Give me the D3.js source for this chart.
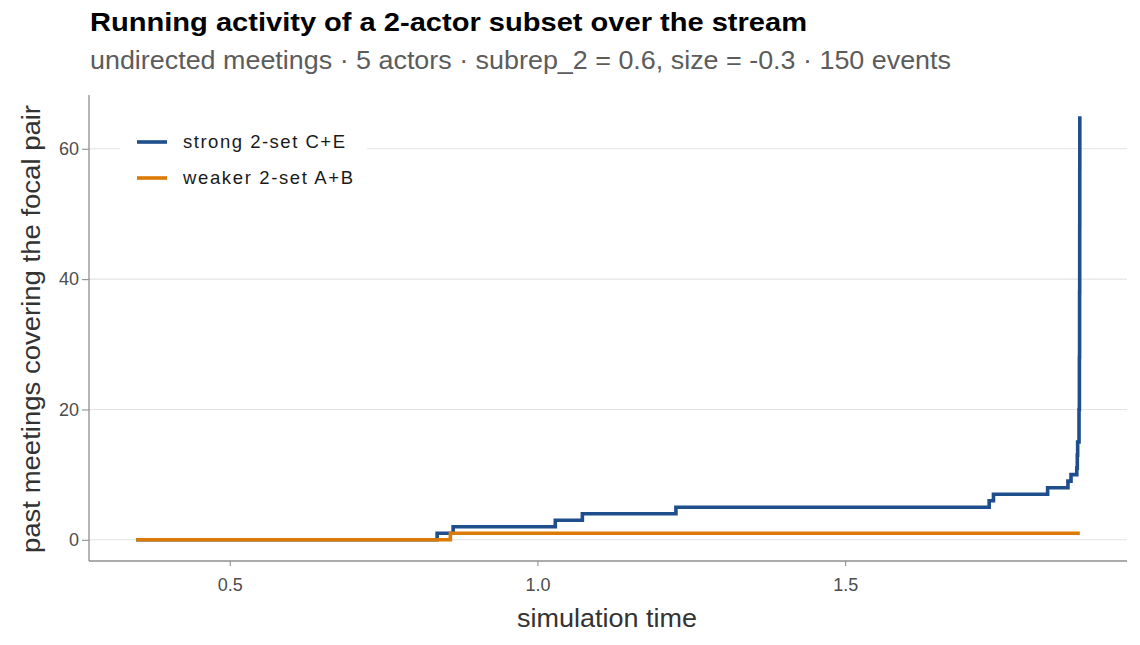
<!DOCTYPE html>
<html>
<head>
<meta charset="utf-8">
<script src="https://cdn.jsdelivr.net/npm/d3@7"></script>
<style>
  html, body { margin: 0; padding: 0; background: #ffffff; }
  svg { display: block; font-family: "Liberation Sans", Arial, Helvetica, sans-serif; }
</style>
</head>
<body>
<svg id="chart" width="1140" height="645"></svg>
<script>
// ---- data ----
const titleText = "Running activity of a 2-actor subset over the stream";
const subtitleText = "undirected meetings \u00b7 5 actors \u00b7 subrep_2 = 0.6, size = -0.3 \u00b7 150 events";
const xLabel = "simulation time";
const yLabel = "past meetings covering the focal pair";

const seriesNames = ["strong 2-set C+E", "weaker 2-set A+B"];
const seriesColors = ["#1f4e8c", "#dd7a07"];

const strongTime  = [0.348, 0.837, 0.863, 1.029, 1.073, 1.225, 1.734, 1.741, 1.829, 1.862, 1.867, 1.8764, 1.8772, 1.8778, 1.8800, 1.8806, 1.8809, 1.8811, 1.8812, 1.8813];
const strongCount = [0,     1,     2,     3,     4,     5,     6,     7,     8,     9,     10,    11,     13,     15,     20,     28,     38,     48,     57,     65];

const weakTime  = [0.348, 0.8585, 1.8813];
const weakCount = [0,     1,      1];

const xTicks = [0.5, 1.0, 1.5];
const yTicks = [0, 20, 40, 60];

// ---- layout ----
const svg = d3.select("#chart");
const panel = { left: 89, right: 1127, top: 95, bottom: 561 };

const allT = strongTime.concat(weakTime);
const allV = strongCount.concat(weakCount);
const tMin = d3.min(allT), tMax = d3.max(allT);
const vMin = d3.min(allV), vMax = d3.max(allV);
const tPad = (tMax - tMin) * 0.05, vPad = (vMax - vMin) * 0.05;

const x = d3.scaleLinear().domain([tMin - tPad, tMax + tPad]).range([panel.left, panel.right]);
const y = d3.scaleLinear().domain([vMin - vPad, vMax + vPad]).range([panel.bottom, panel.top]);

// gridlines
svg.append("g").selectAll("line").data(yTicks).join("line")
  .attr("x1", panel.left).attr("x2", panel.right)
  .attr("y1", d => y(d)).attr("y2", d => y(d))
  .attr("stroke", "#e3e3e3").attr("stroke-width", 1.1);

// axes
const xAxis = d3.axisBottom(x).tickValues(xTicks).tickFormat(d3.format(".1f")).tickSize(5).tickPadding(12).tickSizeOuter(0);
const yAxis = d3.axisLeft(y).tickValues(yTicks).tickFormat(d3.format("d")).tickSize(7).tickPadding(3).tickSizeOuter(0);

const gx = svg.append("g").attr("transform", `translate(0,${panel.bottom})`).call(xAxis);
const gy = svg.append("g").attr("transform", `translate(${panel.left},0)`).call(yAxis);
[gx, gy].forEach(g => {
  g.select(".domain").remove();
  g.selectAll(".tick line").attr("stroke", "#8f8f8f").attr("stroke-width", 1.1);
  g.selectAll(".tick text").attr("fill", "#4d4d4d").style("font-size", "18px").style("font-family", "'Liberation Sans', Arial, sans-serif");
});
// axis lines
svg.append("line").attr("x1", panel.left).attr("x2", panel.right).attr("y1", panel.bottom).attr("y2", panel.bottom)
  .attr("stroke", "#8f8f8f").attr("stroke-width", 1.3);
svg.append("line").attr("x1", panel.left).attr("x2", panel.left).attr("y1", panel.top).attr("y2", panel.bottom)
  .attr("stroke", "#8f8f8f").attr("stroke-width", 1.3);

// lines
const line = d3.line().x(d => x(d[0])).y(d => y(d[1])).curve(d3.curveStepAfter);
const weakData = d3.zip(weakTime, weakCount);
const strongData = d3.zip(strongTime, strongCount);

svg.append("path").datum(strongData).attr("d", line)
  .attr("fill", "none").attr("stroke", seriesColors[0]).attr("stroke-width", 3.6).attr("stroke-linejoin", "miter");
svg.append("path").datum(weakData).attr("d", line)
  .attr("fill", "none").attr("stroke", seriesColors[1]).attr("stroke-width", 3.6).attr("stroke-linejoin", "miter");

// legend
const legendWidths = [162, 170];
const lg = svg.append("g");
lg.append("rect").attr("x", 120).attr("y", 124).attr("width", 247).attr("height", 74).attr("fill", "#ffffff");
seriesNames.forEach((name, i) => {
  const cy = 142 + i * 36;
  lg.append("line").attr("x1", 137).attr("x2", 167).attr("y1", cy).attr("y2", cy)
    .attr("stroke", seriesColors[i]).attr("stroke-width", 3.6);
  lg.append("text").attr("x", 183).attr("y", cy).attr("dy", "0.35em")
    .attr("textLength", legendWidths[i]).attr("lengthAdjust", "spacing")
    .attr("fill", "#1a1a1a").style("font-size", "18.5px").text(name);
});

// titles
svg.append("text").attr("x", 90).attr("y", 31).attr("fill", "#000")
  .attr("textLength", 717).attr("lengthAdjust", "spacingAndGlyphs")
  .style("font-size", "26px").style("font-weight", "bold").text(titleText);
svg.append("text").attr("x", 90).attr("y", 69).attr("fill", "#5c5c5c")
  .attr("textLength", 861).attr("lengthAdjust", "spacingAndGlyphs")
  .style("font-size", "26px").text(subtitleText);

svg.append("text").attr("x", 607).attr("y", 627).attr("text-anchor", "middle")
  .attr("textLength", 180).attr("lengthAdjust", "spacingAndGlyphs")
  .attr("fill", "#333").style("font-size", "26px").text(xLabel);
svg.append("text").attr("transform", `translate(40,${(panel.top + panel.bottom) / 2 + 1}) rotate(-90)`)
  .attr("text-anchor", "middle")
  .attr("textLength", 448).attr("lengthAdjust", "spacingAndGlyphs")
  .attr("fill", "#333").style("font-size", "26px").text(yLabel);
</script>
</body>
</html>
